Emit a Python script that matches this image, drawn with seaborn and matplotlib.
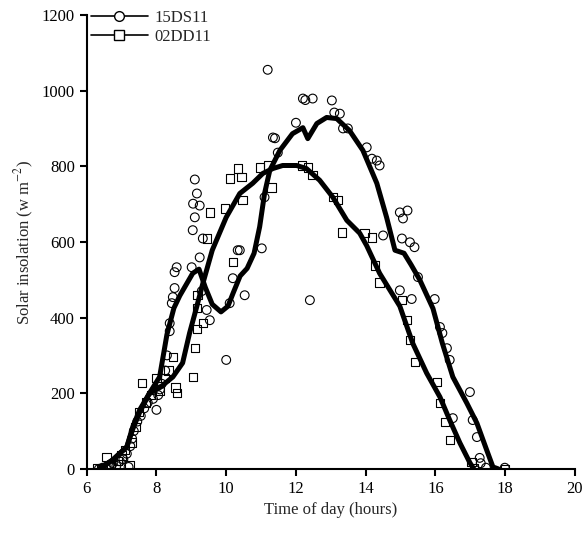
import pandas as pd
import seaborn as sns
import matplotlib
matplotlib.use('Agg')
import matplotlib.pyplot as plt
from matplotlib.lines import Line2D

sns.set_style('ticks')
plt.rcParams['font.family'] = ['Liberation Serif', 'DejaVu Serif']
plt.rcParams['mathtext.fontset'] = 'stix'

# измерения, 15DS11 (кружки)
ds_x = [6.35, 6.45, 6.55, 6.65, 6.75, 6.85, 6.95, 7.05, 7.15, 7.2, 7.25, 7.3, 7.35, 7.45,
        7.55, 7.65, 7.75, 7.9, 8.0, 8.05, 8.1, 8.15, 8.25, 8.3, 8.38, 8.38, 8.44, 8.47,
        8.52, 8.52, 8.58, 9.01, 9.04, 9.05, 9.1, 9.1, 9.16, 9.24, 9.24, 9.33, 9.44, 9.53,
        9.3, 10.0, 10.1, 10.19, 10.33, 10.39, 10.53, 11.02, 11.1, 11.19, 11.34, 11.4, 11.48,
        12.0, 12.2, 12.27, 12.48, 12.4, 13.03, 13.1, 13.26, 13.35, 13.49, 14.03, 14.18,
        14.32, 14.4, 14.5, 14.98, 15.2, 15.07, 15.04, 15.27, 15.4, 15.5, 14.98, 15.32,
        15.98, 16.13, 16.2, 16.33, 16.41, 16.99, 16.5, 17.07, 17.19, 17.27, 17.3, 17.45, 17.99]
ds_y = [0, 3, 5, 10, 15, 8, 20, 25, 40, 5, 60, 80, 100, 125,
        140, 160, 175, 185, 156, 195, 210, 225, 260, 300, 364, 385, 438, 454,
        478, 520, 533, 533, 631, 701, 665, 765, 728, 696, 559, 609, 420, 393,
        470, 288, 438, 504, 578, 578, 459, 583, 718, 1055, 876, 874, 836,
        915, 979, 975, 979, 446, 974, 942, 939, 900, 900, 850, 820,
        815, 802, 617, 678, 683, 662, 609, 599, 586, 507, 472, 449,
        449, 375, 359, 319, 288, 203, 134, 129, 84, 29, 15, 3, 3]

# измерения, 02DD11 (квадраты)
dd_x = [6.3, 6.4, 6.57, 6.7, 6.9, 7.0, 7.1, 7.23, 7.3, 7.4, 7.5, 7.58, 7.7, 7.85, 8.0,
        8.1, 8.25, 8.35, 8.47, 8.55, 8.58, 9.04, 9.1, 9.16, 9.16, 9.18, 9.33, 9.44, 9.53,
        9.96, 10.1, 10.19, 10.33, 10.44, 10.47, 10.96, 11.19, 11.3, 12.17, 12.34, 12.48,
        13.06, 13.2, 13.32, 13.97, 14.18, 14.26, 14.4, 15.04, 15.18, 15.27, 15.41, 16.04,
        16.13, 16.27, 16.41, 17.04, 17.1, 18.0]
dd_y = [3, 0, 32, 10, 20, 35, 50, 10, 70, 110, 150, 227, 175, 195, 240,
        205, 240, 260, 296, 215, 200, 243, 319, 370, 425, 459, 385, 609, 678,
        688, 768, 546, 794, 771, 710, 797, 802, 744, 802, 797, 776,
        718, 710, 625, 623, 612, 538, 493, 446, 393, 340, 282, 230,
        174, 124, 77, 18, 3, 0]

# сглаженные кривые
ds_line_x = [6.37, 6.75, 7.15, 7.32, 7.52, 7.8, 8.09, 8.3, 8.5, 8.67, 9.04, 9.22, 9.4,
             9.6, 9.85, 10.05, 10.2, 10.4, 10.6, 10.8, 10.96, 11.1, 11.25, 11.54, 11.9,
             12.2, 12.34, 12.6, 12.88, 13.17, 13.54, 13.92, 14.32, 14.6, 14.84, 15.1,
             15.3, 15.55, 15.93, 16.2, 16.5, 16.9, 17.19, 17.47, 17.65, 17.8]
ds_line_y = [0, 24, 58, 111, 156, 200, 243, 355, 425, 458, 517, 528, 480,
             435, 415, 430, 465, 510, 530, 570, 640, 728, 789, 842, 886,
             902, 873, 913, 929, 926, 894, 842, 755, 665, 578, 570,
             540, 500, 424, 332, 243, 174, 121, 50, 5, 0]
dd_line_x = [6.37, 6.75, 7.15, 7.32, 7.52, 7.8, 8.1, 8.47, 8.75, 8.95, 9.15, 9.33, 9.6,
             10.0, 10.39, 10.76, 11.05, 11.34, 11.62, 12.02, 12.3, 12.68, 13.06, 13.46,
             13.83, 14.03, 14.4, 14.98, 15.35, 15.75, 16.13, 16.41, 16.7, 16.99, 17.1]
dd_line_y = [0, 24, 58, 105, 150, 200, 215, 243, 280, 359, 427, 490, 578,
             665, 728, 755, 781, 794, 802, 802, 794, 763, 718, 657,
             623, 590, 517, 430, 332, 253, 190, 129, 69, 16, 0]

fig = plt.figure(figsize=(5.86, 5.34), dpi=100)
ax = fig.add_axes([0.148, 0.122, 0.833, 0.85])

sns.scatterplot(x=ds_x, y=ds_y, ax=ax, marker='o', s=40, facecolor='none',
                edgecolor='black', linewidth=0.8, zorder=2)
sns.scatterplot(x=dd_x, y=dd_y, ax=ax, marker='s', s=36, facecolor='none',
                edgecolor='black', linewidth=0.8, zorder=2)
for lx, ly in [(ds_line_x, ds_line_y), (dd_line_x, dd_line_y)]:
    sns.lineplot(x=lx, y=ly, ax=ax, sort=False, color='black', linewidth=3.6, zorder=3,
                 solid_joinstyle='round', solid_capstyle='round')

ax.set_xlim(6, 20)
ax.set_ylim(0, 1200)
ax.set_xticks(range(6, 21, 2))
ax.set_yticks(range(0, 1201, 200))
ax.tick_params(direction='out', length=5, width=1.5, labelsize=12, colors='black')
for s in ['left', 'bottom']:
    ax.spines[s].set_linewidth(1.5)
    ax.spines[s].set_color('black')
sns.despine(ax=ax)
ax.set_xlabel('Time of day (hours)', fontsize=12)
ax.set_ylabel('Solar insolation (w m$^{-2}$)', fontsize=12)

handles = [Line2D([], [], color='black', lw=1.2, marker='o', markersize=7,
                  markerfacecolor='white', markeredgecolor='black'),
           Line2D([], [], color='black', lw=1.2, marker='s', markersize=7,
                  markerfacecolor='white', markeredgecolor='black')]
ax.legend(handles, ['15DS11', '02DD11'], loc='upper left', bbox_to_anchor=(-0.005, 1.025),
          frameon=False, fontsize=12, handlelength=3.4, labelspacing=0.15,
          borderaxespad=0.0, handletextpad=0.4)

plt.savefig('out.png', dpi=100)
plt.close()
